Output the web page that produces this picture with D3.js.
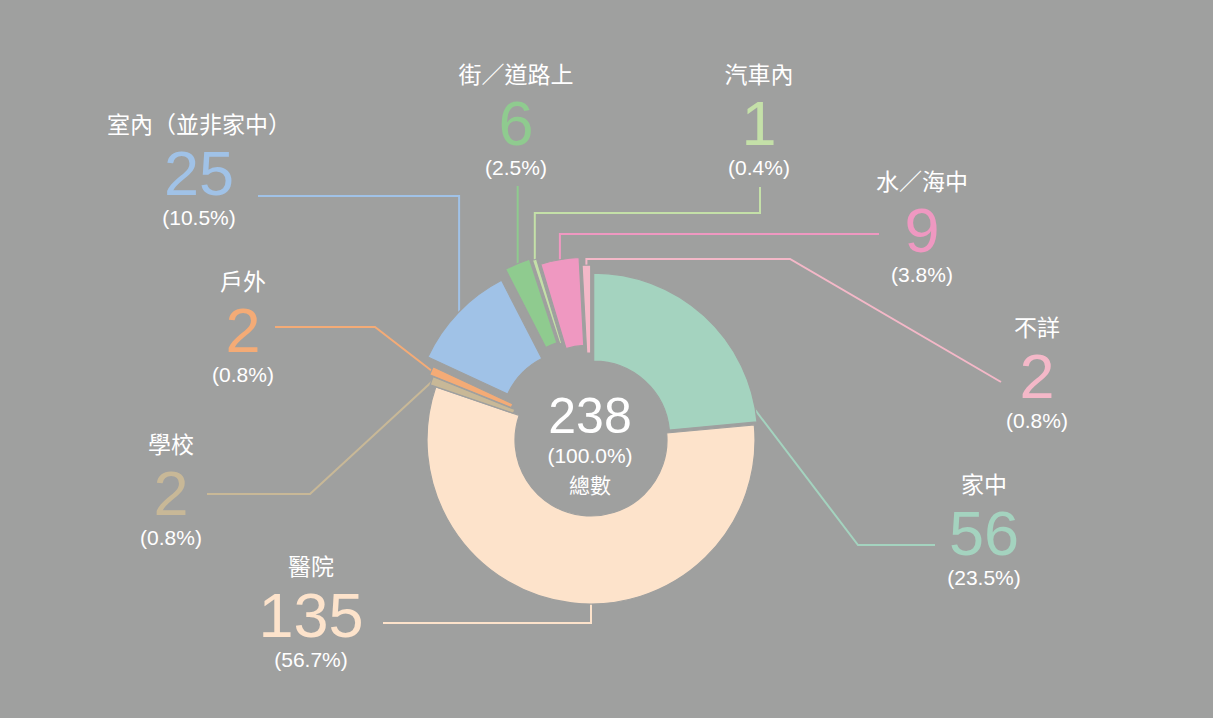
<!DOCTYPE html>
<html>
<head>
<meta charset="utf-8">
<script src="https://cdn.jsdelivr.net/npm/d3@7"></script>
<style>
  html, body { margin: 0; padding: 0; background: #9fa09f; }
  svg { display: block; }
</style>
</head>
<body>
<svg id="chart" width="1213" height="718"></svg>
<script>
// data
const categories = ['家中', '醫院', '學校', '戶外', '室內（並非家中）', '街／道路上', '汽車內', '水／海中', '不詳'];
const counts = [56, 135, 2, 2, 25, 6, 1, 9, 2];
const centerLabel = '總數';

// styles
const colors = ['#a4d3bf', '#fde3cb', '#c8b897', '#f4ab76', '#a0c2e7', '#8fcb8f', '#c4e0a8', '#ef98c1', '#f4b8c8'];
const bg = '#9fa09f';
const explode = [4, 0, 6, 10, 20, 27, 25, 19, 11];   // how far each slice is pulled out

// label anchors (centre x, number baseline) and leader line routes
const labelPos = [[984, 555], [311, 637], [171, 515], [243, 352], [199, 195], [516, 145], [759, 145], [922, 252], [1037, 398]];
const leaderAngle = [80, 180, null, null, null, null, null, null, null]; // degrees, null = slice middle
const leaderRoute = [
  'L858,545 H935',
  'V623 H383',
  'L310,494 H207',
  'L375,327 H275',
  'V196 H258',
  'V186',
  'V213 H760 V187',
  'V234 H879',
  'V259 H790 L1001,382'
];

const cx = 591, cy = 440, rOuter = 164, rInner = 76;
const svg = d3.select('#chart');
svg.append('rect').attr('width', 1213).attr('height', 718).attr('fill', bg);

const total = d3.sum(counts);
const pie = d3.pie().sort(null).value(d => d);
const arcs = pie(counts);
const arc = d3.arc().innerRadius(rInner).outerRadius(rOuter);

const g = svg.append('g');

// offset of each slice
function shift(a, i) {
  const mid = (a.startAngle + a.endAngle) / 2;
  return [cx + explode[i] * Math.sin(mid), cy - explode[i] * Math.cos(mid)];
}

// leader lines
arcs.forEach((a, i) => {
  const [ox, oy] = shift(a, i);
  const ang = leaderAngle[i] != null ? leaderAngle[i] * Math.PI / 180 : (a.startAngle + a.endAngle) / 2;
  const sx = ox + (rOuter - 1) * Math.sin(ang);
  const sy = oy - (rOuter - 1) * Math.cos(ang);
  g.append('path')
    .attr('d', `M${sx.toFixed(1)},${sy.toFixed(1)} ${leaderRoute[i]}`)
    .attr('fill', 'none')
    .attr('stroke', colors[i])
    .attr('stroke-width', 2);
});

// slices
g.selectAll('path.slice')
  .data(arcs)
  .enter()
  .append('path')
  .attr('class', 'slice')
  .attr('transform', (a, i) => `translate(${shift(a, i)})`)
  .attr('d', arc)
  .attr('fill', (a, i) => colors[i])
  .attr('stroke', bg)
  .attr('stroke-width', 1.2);

// labels
const cjk = '"Noto Sans CJK TC", "Noto Sans CJK SC", sans-serif';
const latin = '"Liberation Sans", Arial, Helvetica, sans-serif';
arcs.forEach((a, i) => {
  const [lx, ly] = labelPos[i];
  const lg = svg.append('g').attr('text-anchor', 'middle');
  lg.append('text')
    .attr('x', lx).attr('y', ly - 62)
    .attr('font-family', cjk).attr('font-size', 23)
    .attr('fill', '#fff')
    .text(categories[i]);
  lg.append('text')
    .attr('x', lx).attr('y', ly)
    .attr('font-family', latin).attr('font-size', 63)
    .attr('fill', colors[i])
    .text(counts[i]);
  lg.append('text')
    .attr('x', lx).attr('y', ly + 30)
    .attr('font-family', latin).attr('font-size', 21)
    .attr('fill', '#fff')
    .text(`(${(counts[i] / total * 100).toFixed(1)}%)`);
});

// centre total
const cg = svg.append('g').attr('text-anchor', 'middle').attr('fill', '#fff');
cg.append('text').attr('x', cx - 1).attr('y', 433)
  .attr('font-family', latin).attr('font-size', 50).text(total);
cg.append('text').attr('x', cx - 1).attr('y', 463)
  .attr('font-family', latin).attr('font-size', 21).text('(100.0%)');
cg.append('text').attr('x', cx - 1).attr('y', 493)
  .attr('font-family', cjk).attr('font-size', 21).text(centerLabel);
</script>
</body>
</html>
